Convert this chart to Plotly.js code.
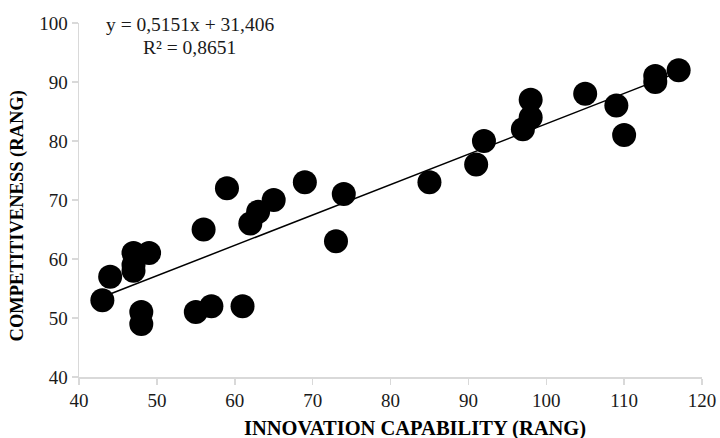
<!DOCTYPE html>
<html>
<head>
<meta charset="utf-8">
<script src="https://cdn.plot.ly/plotly-3.0.1.min.js"></script>
<style>html,body{margin:0;padding:0;background:#fff;}#chart{width:720px;height:438px;}</style>
</head>
<body>
<div id="chart"></div>
<script>
// Innovation capability (rang) vs competitiveness (rang)
const innovation = [43, 44, 47, 47, 47, 49, 48, 48, 55, 57, 61, 56, 62, 63, 65, 59, 69, 74, 73,
                    85, 91, 92, 97, 98, 98, 105, 109, 110, 114, 114, 117];
const competitiveness = [53, 57, 61, 59, 58, 61, 51, 49, 51, 52, 52, 65, 66, 68, 70, 72, 73, 71, 63,
                         73, 76, 80, 82, 84, 87, 88, 86, 81, 90, 91, 92];
const slope = 0.5151;
const intercept = 31.406;
const rSquared = 0.8651;
const xTicks = [40, 50, 60, 70, 80, 90, 100, 110, 120];
const yTicks = [40, 50, 60, 70, 80, 90, 100];
const xTitle = 'INNOVATION CAPABILITY (RANG)';
const yTitle = 'COMPETITIVENESS (RANG)';

const xMin = Math.min(...innovation), xMax = Math.max(...innovation);
const trendX = [xMin, xMax];
const trendY = trendX.map(x => slope * x + intercept);
const fmt = (v, d) => v.toFixed(d).replace('.', ',');

const serif = "'Liberation Serif', 'Times New Roman', serif";

const traces = [
  {x: trendX, y: trendY, mode: 'lines', type: 'scatter',
   line: {color: '#000', width: 1.5}, hoverinfo: 'skip', showlegend: false},
  {x: innovation, y: competitiveness, mode: 'markers', type: 'scatter',
   marker: {color: '#000', size: 24, line: {width: 0}}, showlegend: false}
];

const axisCommon = {
  showgrid: false, zeroline: false, showline: true, linecolor: '#d9d9d9', linewidth: 1.5,
  ticks: 'outside', ticklen: 6, tickcolor: '#d9d9d9', tickwidth: 1.5,
  tickfont: {family: serif, size: 19, color: '#1a1a1a'}, tickmode: 'array'
};

const layout = {
  width: 720, height: 438,
  font: {family: serif, size: 19, color: '#1a1a1a'},
  margin: {l: 79, r: 18, t: 23, b: 61},
  paper_bgcolor: '#fff', plot_bgcolor: '#fff',
  xaxis: Object.assign({}, axisCommon, {range: [40, 120], tickvals: xTicks, ticktext: xTicks.map(String)}),
  yaxis: Object.assign({}, axisCommon, {range: [40, 100], tickvals: yTicks, ticktext: yTicks.map(String)}),
  annotations: [
    {text: 'y = ' + fmt(slope, 4) + 'x + ' + fmt(intercept, 3), xref: 'paper', yref: 'paper',
     x: 0.178, y: 0.995, xanchor: 'center', yanchor: 'middle', showarrow: false,
     font: {family: serif, size: 19.5, color: '#1a1a1a'}},
    {text: 'R² = ' + fmt(rSquared, 4), xref: 'paper', yref: 'paper',
     x: 0.178, y: 0.930, xanchor: 'center', yanchor: 'middle', showarrow: false,
     font: {family: serif, size: 19.5, color: '#1a1a1a'}},
    {text: '<b>' + xTitle + '</b>', xref: 'paper', yref: 'paper',
     x: 0.539, y: -0.145, xanchor: 'center', yanchor: 'middle', showarrow: false,
     font: {family: serif, size: 20.5, color: '#000'}},
    {text: '<b>' + yTitle + '</b>', xref: 'paper', yref: 'paper', textangle: -90,
     x: -0.0987, y: 0.455, xanchor: 'center', yanchor: 'middle', showarrow: false,
     font: {family: serif, size: 18.5, color: '#000'}}
  ]
};

Plotly.newPlot('chart', traces, layout, {displayModeBar: false, staticPlot: true});
</script>
</body>
</html>
